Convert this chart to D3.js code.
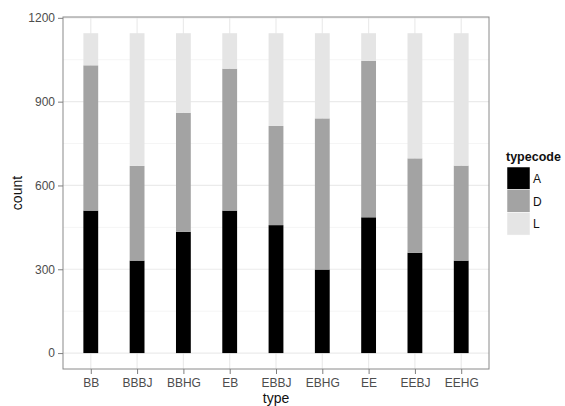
<!DOCTYPE html>
<html><head><meta charset="utf-8">
<script src="https://cdn.jsdelivr.net/npm/d3@7"></script>
<style>body{margin:0;background:#fff}svg{display:block}</style>
</head><body>
<script>
const types = ["BB","BBBJ","BBHG","EB","EBBJ","EBHG","EE","EEBJ","EEHG"];
const typecodes = ["A","D","L"];
const valuesA = [510,331,434,510,458,299,486,359,331];
const valuesD = [520,339,426,508,355,541,560,338,340];
const valuesL = [115,475,285,127,332,305,99,448,474];
const yTicks = [0,300,600,900,1200];
const colors = ["#000000","#a3a3a3","#e5e5e5"];

const W=565,H=406;
const m={left:63,right:489,top:17,bottom:369};
const svg=d3.select("body").append("svg").attr("width",W).attr("height",H);
const font="Liberation Sans, Arial, sans-serif";

// ggplot-like discrete scale: expansion 0.6 unit each side
const x=d3.scalePoint().domain(types).range([m.left,m.right]).padding(0.6);
const xc=d=>x(d);
const unit=x.step();
const y=d3.scaleLinear().domain([-57,1203]).range([m.bottom,m.top]);

const data=types.map((t,i)=>({type:t,A:valuesA[i],D:valuesD[i],L:valuesL[i]}));
const stack=d3.stack().keys(typecodes)(data);

svg.append("rect").attr("x",m.left).attr("y",m.top).attr("width",m.right-m.left).attr("height",m.bottom-m.top).attr("fill","#fff");
const minor=[150,450,750,1050];
svg.append("g").selectAll("line").data(minor).join("line")
 .attr("x1",m.left).attr("x2",m.right).attr("y1",d=>y(d)).attr("y2",d=>y(d))
 .attr("stroke","#f5f5f5").attr("stroke-width",1);
svg.append("g").selectAll("line").data(yTicks).join("line")
 .attr("x1",m.left).attr("x2",m.right).attr("y1",d=>y(d)).attr("y2",d=>y(d))
 .attr("stroke","#ebebeb").attr("stroke-width",1.2);
svg.append("g").selectAll("line").data(types).join("line")
 .attr("x1",d=>xc(d)).attr("x2",d=>xc(d)).attr("y1",m.top).attr("y2",m.bottom)
 .attr("stroke","#ebebeb").attr("stroke-width",1.2);

const bw=unit*0.32;
svg.append("g").selectAll("g").data(stack).join("g")
 .attr("fill",(d,i)=>colors[i])
 .selectAll("rect").data(d=>d).join("rect")
 .attr("x",d=>xc(d.data.type)-bw/2).attr("width",bw)
 .attr("y",d=>y(d[1])).attr("height",d=>y(d[0])-y(d[1]));

svg.append("rect").attr("x",m.left).attr("y",m.top).attr("width",m.right-m.left).attr("height",m.bottom-m.top)
 .attr("fill","none").attr("stroke","#8a8a8a").attr("stroke-width",1);

const ya=d3.axisLeft(y).tickValues(yTicks).tickFormat(d3.format("d")).tickSize(5).tickPadding(3);
const gy=svg.append("g").attr("transform",`translate(${m.left},0)`).call(ya);
gy.select(".domain").remove();
gy.selectAll("line").attr("stroke","#7f7f7f");
gy.selectAll("text").attr("font-family",font).attr("font-size",12).attr("fill","#4d4d4d");

const xa=d3.axisBottom(x).tickSize(5).tickPadding(4);
const gx=svg.append("g").attr("transform",`translate(0,${m.bottom})`).call(xa);
gx.select(".domain").remove();
gx.selectAll("line").attr("stroke","#7f7f7f");
gx.selectAll("text").attr("font-family",font).attr("font-size",12).attr("fill","#4d4d4d");

svg.append("text").attr("x",(m.left+m.right)/2).attr("y",403).attr("text-anchor","middle")
 .attr("font-family",font).attr("font-size",14).attr("fill","#111").text("type");
svg.append("text").attr("transform",`translate(22,${(m.top+m.bottom)/2}) rotate(-90)`).attr("text-anchor","middle")
 .attr("font-family",font).attr("font-size",14).attr("fill","#111").text("count");

const lg=svg.append("g");
lg.append("text").attr("x",506).attr("y",161).attr("font-family",font).attr("font-size",12.5)
 .attr("font-weight","bold").attr("fill","#111").text("typecode");
typecodes.forEach((k,i)=>{
  const ky=167+i*22.7;
  lg.append("rect").attr("x",507).attr("y",ky).attr("width",23).attr("height",22.7).attr("fill",colors[i])
   .attr("stroke","#fff").attr("stroke-width",0.5);
  lg.append("text").attr("x",533).attr("y",ky+16).attr("font-family",font).attr("font-size",12)
   .attr("fill","#111").text(k);
});
</script>
</body></html>
